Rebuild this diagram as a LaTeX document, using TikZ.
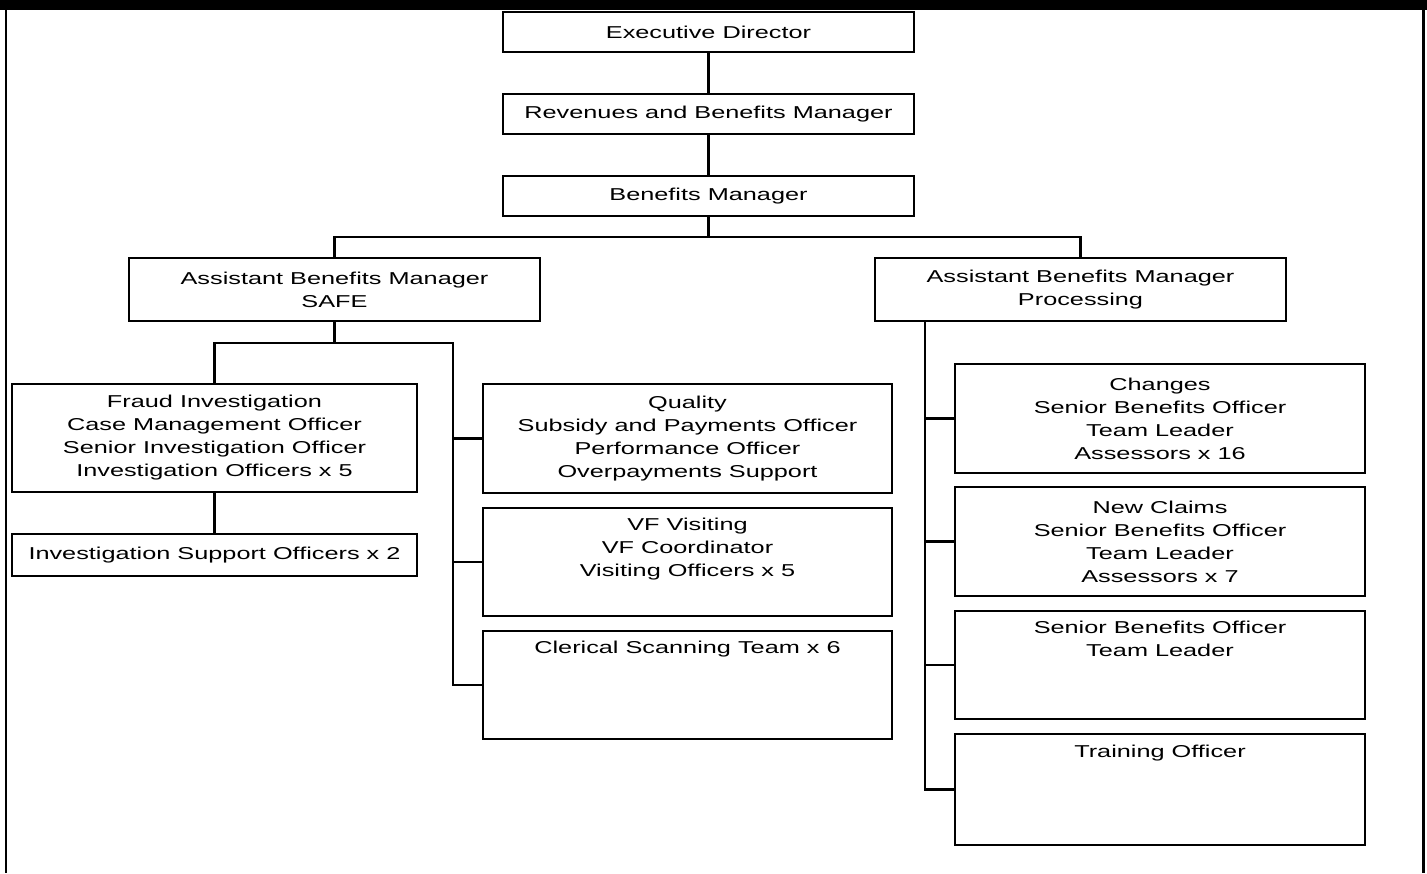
\documentclass[tikz,border=0pt]{standalone}
\usepackage{fontspec}
\setmainfont{Liberation Sans}[FakeStretch=1.47]
\usepackage{tikz}
\usetikzlibrary{positioning}

\begin{document}
\begin{tikzpicture}[
  x=1pt, y=-1pt,
  box/.style={draw, line width=2.2pt, outer sep=0pt, inner sep=2pt,
              minimum width=411pt, minimum height=40pt, align=center,
              font=\fontsize{17.2}{23}\selectfont},
  tall/.style={box, minimum height=108pt},
  link/.style={line width=2.2pt},
]
\useasboundingbox (0,0) rectangle (1427,873);
% page frame
\fill (0,0) rectangle (1427,10);
\draw[line width=2.3pt] (6.2,10) -- (6.2,873);
\draw[line width=3pt] (1423.3,10) -- (1423.3,873);

\node[box, anchor=north] (ed) at (708.5,12) {Executive Director};
\node[box, below=42pt of ed] (rbm) {Revenues and Benefits Manager};
\node[box, below=42pt of rbm] (bm) {Benefits Manager};
\node[box, anchor=north, minimum height=63pt] (abs) at (334.5,258)
  {Assistant Benefits Manager\\SAFE};
\node[box, anchor=north, minimum height=63pt] (abp) at (1080.5,258)
  {Assistant Benefits Manager\\Processing};

% SAFE side
\node[tall, anchor=north, minimum width=405pt] (fi) at (214.5,384)
  {Fraud Investigation\\Case Management Officer\\
   Senior Investigation Officer\\Investigation Officers x 5};
\node[box, anchor=north, minimum width=405pt, minimum height=42pt] (iso)
  at (214.5,534) {Investigation Support Officers x 2};
\node[tall, anchor=north, minimum width=409pt, minimum height=109pt] (qu)
  at (687.5,384)
  {Quality\\Subsidy and Payments Officer\\
   Performance Officer\\Overpayments Support};
\node[tall, anchor=north, minimum width=409pt] (vf) at (687.5,508)
  {VF Visiting\\VF Coordinator\\Visiting Officers x 5\\\strut};
\node[tall, anchor=north, minimum width=409pt] (cs) at (687.5,631)
  {Clerical Scanning Team x 6\\\strut\\\strut\\\strut};

% Processing side
\node[tall, anchor=north, minimum width=410pt, minimum height=109pt] (ch)
  at (1160,364)
  {Changes\\Senior Benefits Officer\\Team Leader\\Assessors x 16};
\node[tall, anchor=north, minimum width=410pt, minimum height=109pt] (nc)
  at (1160,487)
  {New Claims\\Senior Benefits Officer\\Team Leader\\Assessors x 7};
\node[tall, anchor=north, minimum width=410pt] (sb) at (1160,611)
  {Senior Benefits Officer\\Team Leader\\\strut\\\strut};
\node[tall, anchor=north, minimum width=410pt, minimum height=111pt] (to)
  at (1160,734) {Training Officer\\\strut\\\strut\\\strut};

\coordinate (top) at (708.5,237);
\coordinate (sbus) at (453,343);
\coordinate (pbus) at (925,321);

\draw[link] (ed) -- (rbm);
\draw[link] (rbm) -- (bm);
\draw[link] (bm) -- (top);
\draw[link] (abs.north) |- (top) -| (abp.north);

\draw[link] (abs.south) -- (abs.south |- sbus);
\draw[link] (fi.north) |- (sbus) |- (cs.west);
\draw[link] (sbus |- qu.west) -- (qu.west);
\draw[link] (sbus |- vf.west) -- (vf.west);
\draw[link] (fi) -- (iso);

\draw[link] (pbus) |- (to.west);
\draw[link] (pbus |- ch.west) -- (ch.west);
\draw[link] (pbus |- nc.west) -- (nc.west);
\draw[link] (pbus |- sb.west) -- (sb.west);
\end{tikzpicture}
\end{document}
